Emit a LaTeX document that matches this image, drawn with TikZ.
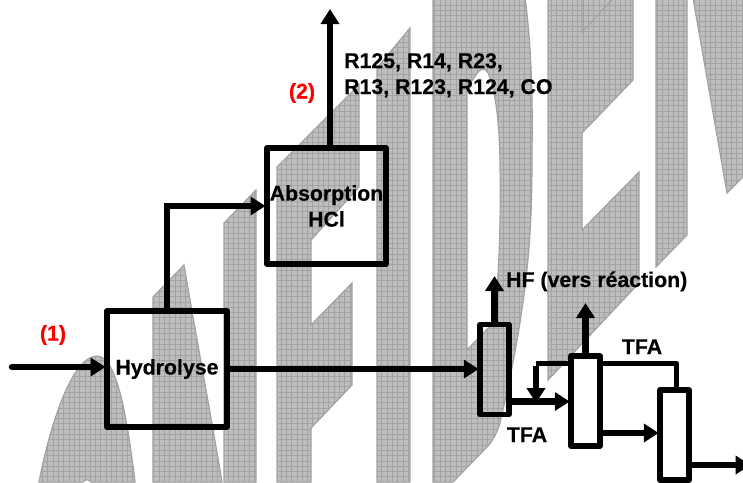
\documentclass[tikz,border=0pt]{standalone}
\usepackage{fontspec}
\setmainfont[BoldFeatures={FakeBold=0.5}]{Liberation Sans}
\usetikzlibrary{arrows.meta,patterns.meta}
\definecolor{wmfill}{HTML}{BEBEBE}
\definecolor{wmline}{HTML}{A2A2A2}
\definecolor{wmedge}{HTML}{A2A2A2}
\tikzset{
    wm/.style={draw=wmedge, line width=1.2pt, preaction={fill=wmfill},
        pattern={Hatch[distance=5.3pt,angle=0,line width=0.6pt]}, pattern color=wmline},
    wmhole/.style={draw=wmedge, line width=1.2pt, fill=white},
    unit/.style={draw=black, line width=6pt, line join=round, inner sep=0pt, align=center,
        font=\fontsize{21.3}{26}\selectfont\bfseries},
    col/.style={draw=black, line width=5.5pt, line join=round, inner sep=0pt,
        minimum width=29pt, minimum height=90pt},
    flow/.style={line width=6.5pt, shorten >=-1.5pt, -{Triangle[length=15pt,width=18pt]}},
    pipe/.style={line width=5pt, line join=round},
    lbl/.style={inner sep=0pt, font=\fontsize{21.3}{26}\selectfont\bfseries},
}
\begin{document}
\begin{tikzpicture}[x=1pt, y=-1pt]
        \useasboundingbox (0,0) rectangle (743,482);
        \clip (0,0) rectangle (743,482);

        % ==================== watermark letters ====================
        \draw[wm] (39,482) .. controls (50,425) and (72,356) .. (97,356)
                           .. controls (118,356) and (128,425) .. (135,482)
                           -- (91,482) .. controls (89,479) and (85,479) .. (83,482) -- cycle;
        \draw[wm] (153,482) -- (153,297) -- (184,265)
                           .. controls (195,330) and (210,410) .. (222,482) -- cycle;
        \draw[wm] (224,482) -- (224,223) -- (256,190) -- (256,482) -- cycle;
        \draw[wm] (277,482) -- (277,167) -- (359,85) -- (359,187) -- (311,240) -- (311,325)
                  -- (352,283) -- (352,385) -- (311,428) -- (311,482) -- cycle;
        \draw[wm] (377,482) -- (377,68) -- (410,28) -- (410,482) -- cycle;
        % D with its counter
        \draw[wm] (433,482) -- (433,-2) -- (525,-2) .. controls (531,40) and (533,100) .. (532,150)
                  .. controls (532,220) and (531,290) .. (500,423)
                  .. controls (497,433) and (492,442) .. (487,447) -- (453,482) -- cycle;
        \draw[wmhole] (467,88) -- (476,75) .. controls (480,69) and (484,66) .. (488,73)
                  .. controls (496,90) and (500,130) .. (500,167)
                  .. controls (501,220) and (499,280) .. (494,322) -- (467,350) -- cycle;
        \draw[wm] (548,380) -- (548,-2) -- (614,-2) -- (582,32) -- (582,-2) -- (633,-2) -- (633,80)
                  -- (582,133) -- (582,230) -- (639,172) -- (639,283) -- cycle;
        \draw[wm] (656,-2) -- (687,-2) -- (687,235) -- (656,267) -- cycle;
        \draw[wm] (693,-2) -- (727,193) -- (745,175) -- (745,-2) -- cycle;

        % ==================== units ====================
        \node[unit, minimum width=120pt, minimum height=116pt] (Hyd) at (167,369) {\raisebox{-2pt}{Hydrolyse}};
        \node[unit, minimum width=119pt, minimum height=116pt] (Abs) at (326.5,206) {\raisebox{-2pt}{Absorption}\\\raisebox{-2pt}{HCl}};
        \node[col] (ColA) at (494.5,369.5) {};
        \node[col] (ColB) at (585.5,401) {};
        \node[col] (ColC) at (674.5,435) {};

        % ==================== free ends ====================
        \coordinate (X0) at (12,367);
        \coordinate (X1) at (330,10.5);
        \coordinate (X2) at (494.5,277.5);
        \coordinate (X3) at (585.5,304.5);
        \coordinate (X4) at (536,363);
        \coordinate (X5) at (536,401.5);
        \coordinate (X6) at (676,363);
        \coordinate (X7) at (749,465);

        % ==================== streams ====================
        \draw[flow, line cap=round] (X0) -- (X0 -| Hyd.west);
        \draw[flow] (Hyd.north) |- (Abs.west);
        \draw[flow] (X1 |- Abs.north) -- (X1);
        \draw[flow] (Hyd.east) -- (Hyd.east -| ColA.west);
        \draw[flow] (ColA.north) -- (X2);
        \draw[flow] (ColB.north) -- (X3);
        \draw[flow] (ColA.east |- X5) -- (ColB.west |- X5);
        \draw[pipe] (X4 -| ColB.west) -- (X4);
        \draw[flow] ([yshift=-2.5pt]X4) -- (X5);
        \draw[pipe] (X6 -| ColB.east) -- (X6) -- (X6 |- ColC.north);
        \draw[flow] (ColB.east |- 0,433) -- (ColC.west |- 0,433);
        \draw[flow] (X7 -| ColC.east) -- (X7);

        % ==================== labels ====================
        \node[lbl, text=red] (L1) at (53,335) {(1)};
        \node[lbl, text=red] (L2) at (302,93) {(2)};
        \node[lbl, align=left, anchor=base west] (Gas) at (344,94) {R125, R14, R23,\\R13, R123, R124, CO};
        \node[lbl, anchor=base west] (HF) at (506,287) {HF (vers réaction)};
        \node[lbl, anchor=base] (TFA1) at (642,354) {TFA};
        \node[lbl, anchor=base] (TFA2) at (527,442) {TFA};
\end{tikzpicture}
\end{document}
